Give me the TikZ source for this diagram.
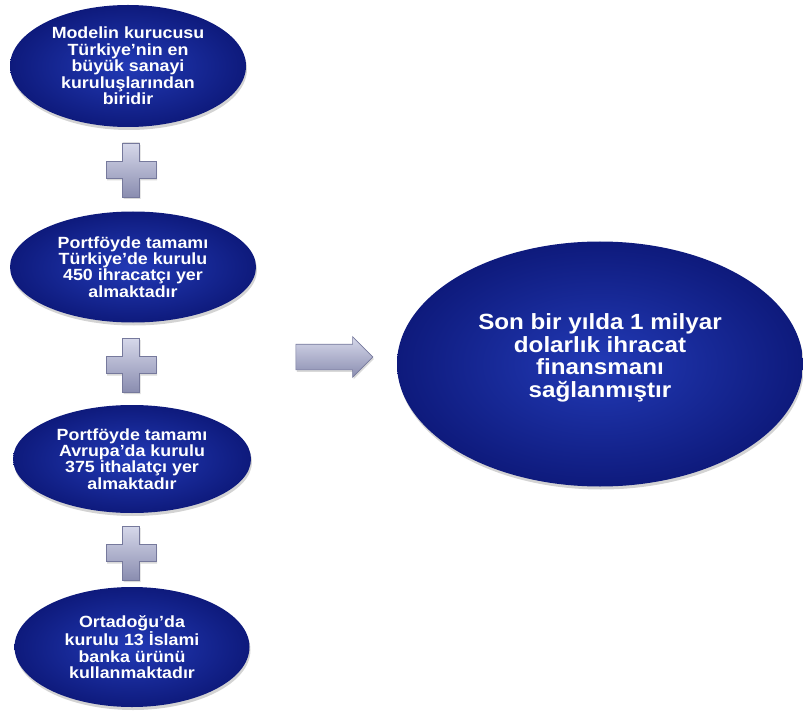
\documentclass[tikz,border=0pt]{standalone}
\usepackage{fontspec}
\setmainfont[FakeStretch=1.1]{Liberation Sans}
\usetikzlibrary{shapes.geometric,shapes.arrows,shadows}

\definecolor{ovalin}{RGB}{34,58,182}
\definecolor{ovalout}{RGB}{14,26,124}
\definecolor{greylight}{RGB}{214,216,234}
\definecolor{greydark}{RGB}{138,141,176}
\definecolor{greyedge}{RGB}{118,121,156}

% bevelled plus sign centred at (#1,#2)
\newcommand\plusmark[2]{%
  \fill[top color=greylight, bottom color=greydark, draw=greyedge, line width=0.6pt,
        drop shadow={shadow xshift=1pt, shadow yshift=-2pt, opacity=0.3}]
    (#1-8.5,#2-27) -- (#1+8.5,#2-27) -- (#1+8.5,#2-8.5) -- (#1+25,#2-8.5)
    -- (#1+25,#2+8.5) -- (#1+8.5,#2+8.5) -- (#1+8.5,#2+27) -- (#1-8.5,#2+27)
    -- (#1-8.5,#2+8.5) -- (#1-25,#2+8.5) -- (#1-25,#2-8.5) -- (#1-8.5,#2-8.5) -- cycle;}

\begin{document}
\begin{tikzpicture}[x=1pt,y=-1pt,
  oval/.style={ellipse, inner sep=0pt, draw=none, inner color=ovalin, outer color=ovalout,
    text=white, align=center, font=\bfseries\fontsize{16.2}{16.4}\selectfont,
    drop shadow={shadow xshift=1pt, shadow yshift=-3pt, opacity=0.35}},
  bigoval/.style={oval, font=\bfseries\fontsize{22}{22}\selectfont},
  flowarrow/.style={single arrow, draw=greyedge, line width=0.6pt,
    top color=greylight, bottom color=greydark,
    inner xsep=0pt, inner ysep=12.5pt, minimum height=77pt,
    single arrow head extend=7.5pt, single arrow head indent=0pt,
    drop shadow={shadow xshift=1pt, shadow yshift=-2pt, opacity=0.3}}
]
\useasboundingbox (0,0) rectangle (803,711);

\node[oval, minimum width=236pt, minimum height=122pt] (m1) at (128,66)
  {Modelin kurucusu\\Türkiye’nin en\\büyük sanayi\\kuruluşlarından\\biridir};
\node[oval, minimum width=246pt, minimum height=111pt] (m2) at (133,267)
  {Portföyde tamamı\\Türkiye’de kurulu\\450 ihracatçı yer\\almaktadır};
\node[oval, minimum width=238pt, minimum height=108pt] (m3) at (132,459)
  {Portföyde tamamı\\Avrupa’da kurulu\\375 ithalatçı yer\\almaktadır};
\node[oval, minimum width=235pt, minimum height=120pt] (m4) at (132,647)
  {Ortadoğu’da\\kurulu 13 İslami\\banka ürünü\\kullanmaktadır};

\plusmark{131}{170}
\plusmark{131}{365}
\plusmark{131}{553}

\node[flowarrow] (arr) at (328,357) {};

% text sits a little above the centre of the large oval
\node[bigoval, minimum width=406pt, minimum height=245pt] (res) at (600,364)
  {\raisebox{5pt}[\height][\depth]{\begin{tabular}{@{}c@{}}Son bir yılda 1 milyar\\dolarlık ihracat\\finansmanı\\sağlanmıştır\end{tabular}}};
\end{tikzpicture}
\end{document}
